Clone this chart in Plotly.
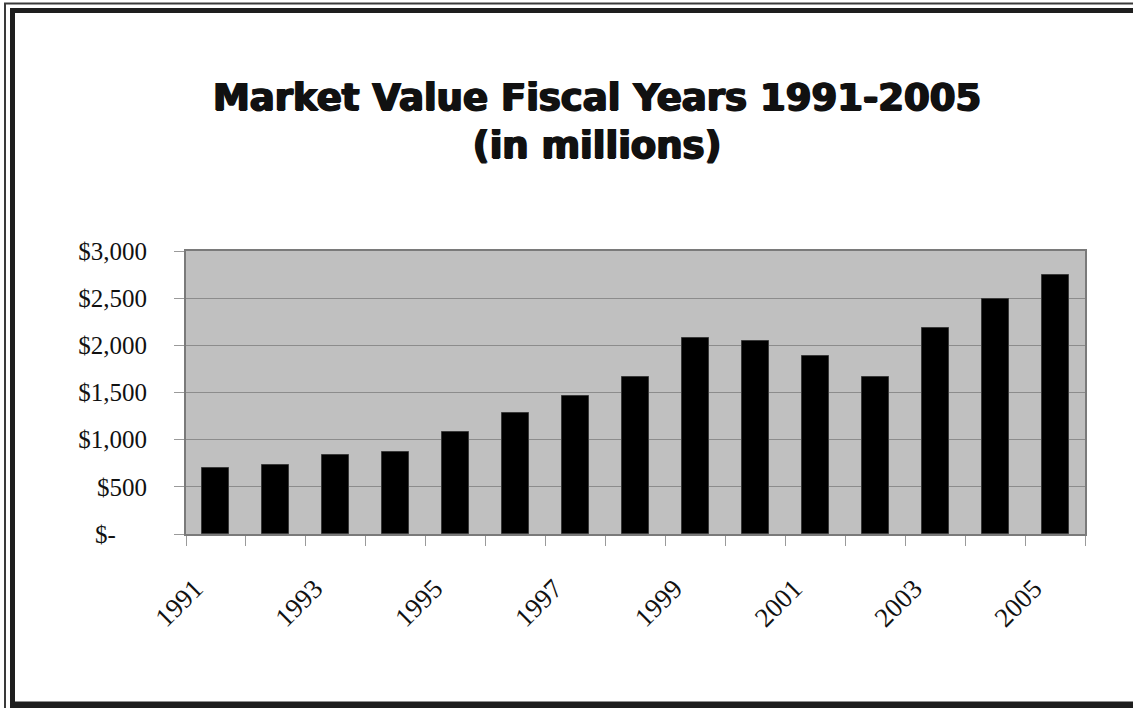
import plotly.graph_objects as go

# Fiscal years and market value (in millions of dollars)
years = [1991, 1992, 1993, 1994, 1995, 1996, 1997, 1998,
         1999, 2000, 2001, 2002, 2003, 2004, 2005]
market_value = [696, 731, 837, 872, 1083, 1285, 1465, 1666,
                2079, 2047, 1888, 1666, 2189, 2496, 2750]

# Axis tick labels
y_tick_vals = [0, 500, 1000, 1500, 2000, 2500, 3000]
y_tick_text = ["$-\u00a0\u00a0\u00a0\u00a0\u00a0", "$500", "$1,000", "$1,500",
               "$2,000", "$2,500", "$3,000"]
x_label_years = [1991, 1993, 1995, 1997, 1999, 2001, 2003, 2005]
# rotated labels sit slightly left of their bar, Excel-style
x_label_offset = -0.35

W, H = 1133, 708
L, R, T, B = 186, 48, 251, 174
PW, PH = W - L - R, H - T - B


def px(x):
    return (x - L) / PW


def py(y):
    return (H - B - y) / PH


fig = go.Figure()
fig.add_trace(go.Bar(
    x=years,
    y=market_value,
    width=0.45,
    marker=dict(color="#000000", line=dict(color="#3a3a3a", width=1)),
    hoverinfo="x+y",
))

serif = "Liberation Serif, Times New Roman, serif"

fig.update_layout(
    width=W,
    height=H,
    margin=dict(l=L, r=R, t=T, b=B),
    paper_bgcolor="#ffffff",
    plot_bgcolor="#c0c0c0",
    showlegend=False,
    bargap=0,
    xaxis=dict(
        range=[1990.5, 2005.5],
        tickmode="array",
        tickvals=[y + x_label_offset for y in x_label_years],
        ticktext=[str(y) for y in x_label_years],
        tickangle=-45,
        ticks="",
        ticklabelstandoff=26,
        tickfont=dict(family=serif, size=27, color="#111111"),
        showgrid=False,
        zeroline=False,
        showline=True,
        linecolor="#7a7a7a",
        linewidth=2,
        mirror=True,
        minor=dict(tick0=1990.5, dtick=1, ticks="outside", ticklen=10,
                   tickcolor="#9a9a9a", tickwidth=1, showgrid=False),
    ),
    yaxis=dict(
        range=[0, 3000],
        tickmode="array",
        tickvals=y_tick_vals,
        ticktext=y_tick_text,
        ticks="outside",
        ticklen=10,
        tickcolor="#9a9a9a",
        ticklabelstandoff=22,
        tickfont=dict(family=serif, size=25, color="#111111"),
        showgrid=True,
        gridcolor="#8c8c8c",
        gridwidth=1,
        zeroline=False,
        showline=True,
        linecolor="#7a7a7a",
        linewidth=2,
        mirror=True,
    ),
)

# Chart title (heavy sans, thickened with a tight text shadow)
fig.add_annotation(
    xref="paper", yref="paper",
    x=px(597), y=py(121),
    xanchor="center", yanchor="middle",
    text="<b>Market Value Fiscal Years 1991-2005<br>(in millions)</b>",
    showarrow=False,
    font=dict(family="DejaVu Sans, sans-serif", size=37,
              color="#111111", weight=900,
              shadow="1px 0px 0px #111111, -1px 0px 0px #111111, 0px 1px 0px #111111"),
    align="center",
)

# Page frame: thin outer rule and heavy inner rule
frame = "#1e1e1e"
fig.add_shape(type="line", xref="paper", yref="paper",
              x0=px(5), x1=px(5), y0=py(3), y1=py(H + 5),
              line=dict(color="#3a3a3a", width=2))
fig.add_shape(type="line", xref="paper", yref="paper",
              x0=px(4), x1=px(W + 5), y0=py(3.5), y1=py(3.5),
              line=dict(color="#3a3a3a", width=2))
fig.add_shape(type="line", xref="paper", yref="paper",
              x0=px(12.5), x1=px(12.5), y0=py(8), y1=py(H + 5),
              line=dict(color=frame, width=5))
fig.add_shape(type="line", xref="paper", yref="paper",
              x0=px(10), x1=px(W + 5), y0=py(10.5), y1=py(10.5),
              line=dict(color=frame, width=5))
fig.add_shape(type="line", xref="paper", yref="paper",
              x0=px(10), x1=px(W + 5), y0=py(705), y1=py(705),
              line=dict(color=frame, width=7))

fig.write_html("out.html")
